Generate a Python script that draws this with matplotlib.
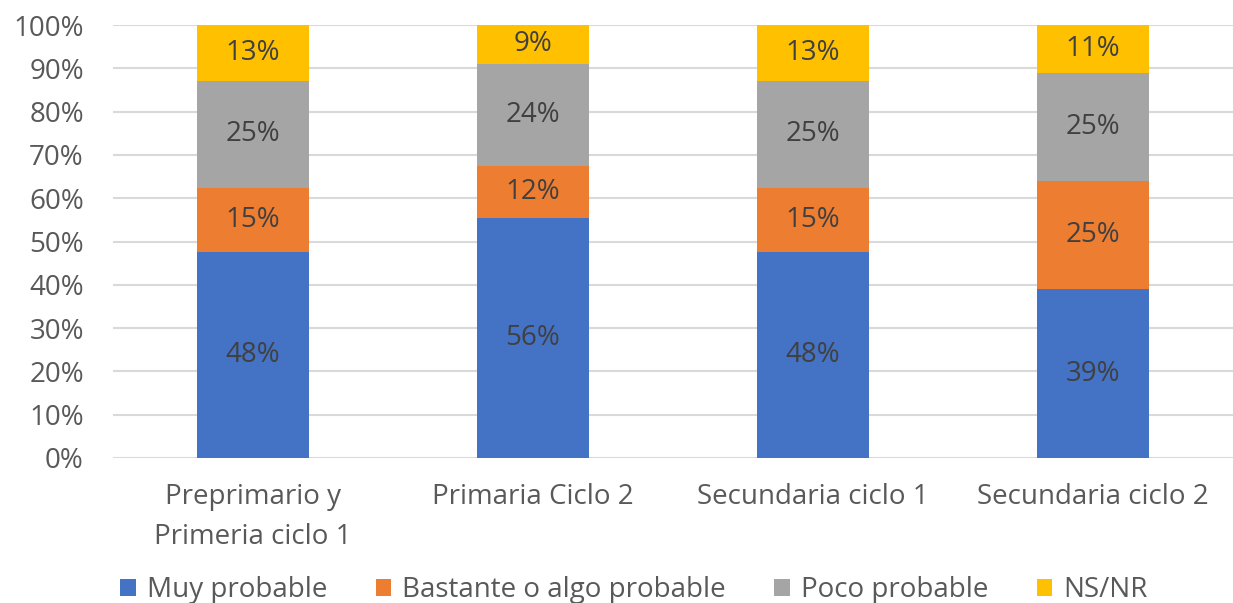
import numpy as np
import matplotlib.pyplot as plt

plt.rcParams['font.family'] = ['Open Sans', 'DejaVu Sans']

categories = ["Preprimario y\nPrimeria ciclo 1", "Primaria Ciclo 2",
              "Secundaria ciclo 1", "Secundaria ciclo 2"]
series = ["Muy probable", "Bastante o algo probable", "Poco probable", "NS/NR"]
muy = [48, 56, 48, 39]
bastante = [15, 12, 15, 25]
poco = [25, 24, 25, 25]
nsnr = [13, 9, 13, 11]
colors = ["#4472C4", "#ED7D31", "#A5A5A5", "#FFC000"]

vals = np.array([muy, bastante, poco, nsnr], dtype=float)
# 100% stacked, like the excel chart
shares = vals / vals.sum(axis=0)

txt = "#595959"
fs = 20
fig = plt.figure(figsize=(12.33, 6.03), dpi=100)
ax = fig.add_axes([113/1233, 1 - 458/603, 1120/1233, 433/603])

x = np.arange(len(categories))
bottom = np.zeros(len(categories))
for name, s, v, c in zip(series, shares, vals, colors):
    ax.bar(x, s, 0.4, bottom=bottom, color=c, label=name, zorder=3)
    for xi, b, h, lab in zip(x, bottom, s, v):
        ax.text(xi, b + h / 2, f"{lab:.0f}%", ha="center", va="center",
                fontsize=fs, color="#404040", zorder=4)
    bottom += s

ax.set_xlim(-0.5, len(categories) - 0.5)
ax.set_ylim(0, 1)
ax.set_yticks(np.arange(0, 1.01, 0.1))
ax.set_yticklabels([f"{int(round(t*100))}%" for t in np.arange(0, 1.01, 0.1)])
ax.set_xticks(x)
ax.set_xticklabels(categories, linespacing=1.55)
ax.tick_params(length=0, labelsize=fs, colors=txt)
ax.tick_params(axis="x", pad=18)
ax.tick_params(axis="y", pad=21)
ax.yaxis.grid(True, color="#D9D9D9", lw=1.5, zorder=0)
for sp in ax.spines.values():
    sp.set_visible(False)

ax.legend(loc="lower center", bbox_to_anchor=(0.465, -0.395), ncol=4, frameon=False,
          fontsize=fs, labelcolor=txt, handlelength=0.55, handleheight=0.55,
          handletextpad=0.4, columnspacing=1.75)

fig.savefig("out.png", dpi=100)
